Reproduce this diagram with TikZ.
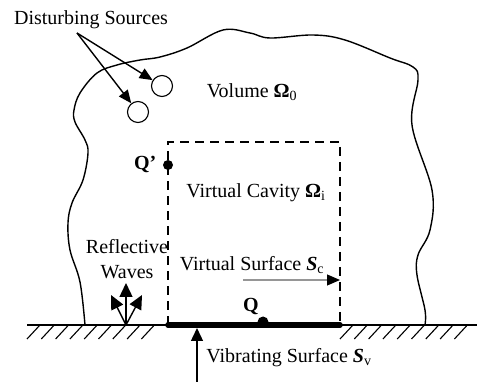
\documentclass[tikz,border=0pt]{standalone}
\usepackage{fontspec}
\setmainfont{Liberation Serif}
\usepackage{tikz}
\usetikzlibrary{arrows.meta,positioning,calc}
\definecolor{surfgray}{RGB}{150,150,150}
\tikzset{
  every node/.style={font=\fontsize{20pt}{25pt}\selectfont},
  srcring/.style={circle,draw,line width=1.1pt,minimum size=21pt,inner sep=0pt},
  probe/.style={circle,fill=black,minimum size=10pt,inner sep=0pt},
  hatch/.style={line width=1.1pt}
}
\begin{document}
\begin{tikzpicture}[x=1pt,y=-1pt,line width=1.4pt,>={Triangle[length=13pt,width=11pt]}]
\useasboundingbox (0,0) rectangle (477,382);
% ground with hatching
\draw (27,325) -- (477,325);
\foreach \i in {0,...,8} {
  \draw[hatch] ({27+14.3*\i},339) -- ++(13,-14);
  \draw[hatch] ({340+14.3*\i},339) -- ++(13,-14);
}
% outer volume
\draw plot[smooth,tension=0.6] coordinates {
  (85,325) (80,282) (70,250) (68,223) (72,203) (83,180) (88,153) (85,140)
  (75,122) (74,110) (80,93) (97,73) (117,65) (140,60) (160,57) (187,48)
  (223,30) (250,33) (270,38) (313,35) (345,40) (390,58) (413,67) (418,80)
  (412,125) (432,190) (430,230) (418,255) (417,275) (425,310) (425,325)};
% virtual cavity
\coordinate (cavNW) at (168,142);
\coordinate (cavNE) at (340,142);
\coordinate (cavSW) at (168,325);
\coordinate (cavSE) at (340,325);
\draw[dash pattern=on 9pt off 6pt] (cavSW) -- (cavNW) -- (cavNE) -- (cavSE);
\draw[line width=5.5pt,line cap=round] (cavSW) -- (cavSE);
% disturbing sources
\node (dist) at (91,20) {Disturbing Sources};
\coordinate (distfoot) at (77,33);
\node[srcring] (srcA) at (162,86) {};
\node[srcring] (srcB) at (138,112) {};
\draw[->] (distfoot) -- (srcA);
\draw[->] (distfoot) -- (srcB);
\node (vol) at (252,92) {Volume \textbf{Ω}\textsubscript{0}};
% probe points
\node[probe] (qprime) at (168,165) {};
\node[left=2pt of qprime,yshift=1pt] (qprimelbl) {\textbf{Q’}};
\node[probe,minimum size=11pt] (q) at (263,322) {};
\node (qlbl) at (251,307) {\textbf{Q}};
\node (cav) at (256,193) {Virtual Cavity \textbf{Ω}\textsubscript{i}};
% reflective waves
\node[align=center] (refl) at (127,259) {Reflective\\Waves};
\coordinate (reflbase) at (126,325);
\coordinate (reflup) at (126,283);
\coordinate (reflL) at (111,295);
\coordinate (reflR) at (142,295);
\begin{scope}[>={Triangle[length=14pt,width=13pt]}]
\draw[->] (reflbase) -- (reflup);
\draw[->] (reflbase) -- (reflL);
\draw[->] (reflbase) -- (reflR);
\end{scope}
% surfaces
\node (vsurf) at (252,265) {Virtual Surface \textbf{\textit{S}}\textsubscript{c}};
\coordinate (vsfoot) at (243,280);
\draw[surfgray,line width=1.1pt,-{Triangle[length=13pt,width=11pt,color=black]}] (vsfoot) -- (vsfoot -| cavSE);
\node (vib) at (289,358) {Vibrating Surface \textbf{\textit{S}}\textsubscript{v}};
\coordinate (vibfoot) at (197,382);
\coordinate (vibtip) at (197,328);
\draw[->,>={Triangle[length=13pt,width=12pt]}] (vibfoot) -- (vibtip);
\end{tikzpicture}
\end{document}
